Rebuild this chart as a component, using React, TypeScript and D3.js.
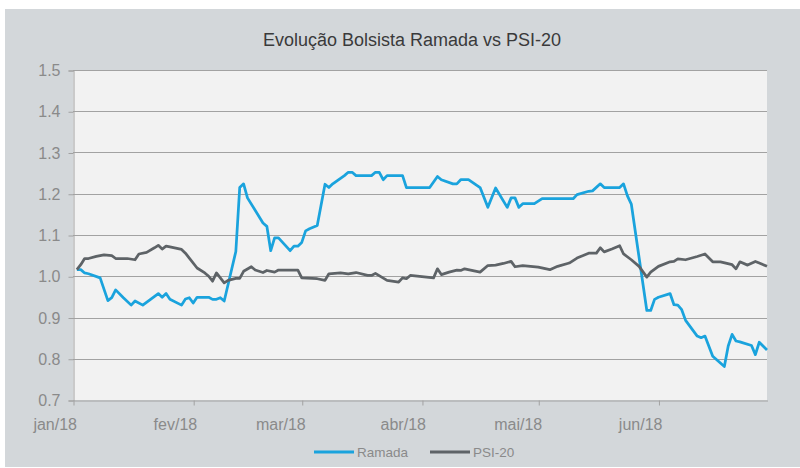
import { useEffect, useRef } from 'react';
import * as d3 from 'd3';

// Base 1 = 2 Jan 2018
const ramadaDates = [
  '2018-01-02', '2018-01-03', '2018-01-04', '2018-01-05', '2018-01-08', '2018-01-10', '2018-01-11',
  '2018-01-12', '2018-01-14', '2018-01-16', '2018-01-17', '2018-01-19', '2018-01-21', '2018-01-23',
  '2018-01-24', '2018-01-25', '2018-01-26', '2018-01-29', '2018-01-30', '2018-01-31', '2018-02-01',
  '2018-02-02', '2018-02-05', '2018-02-06', '2018-02-07', '2018-02-08', '2018-02-09', '2018-02-12',
  '2018-02-13', '2018-02-14', '2018-02-15', '2018-02-19', '2018-02-20', '2018-02-21', '2018-02-22',
  '2018-02-23', '2018-02-26', '2018-02-27', '2018-02-28', '2018-03-01', '2018-03-02', '2018-03-03',
  '2018-03-05', '2018-03-07', '2018-03-08', '2018-03-09', '2018-03-12', '2018-03-13', '2018-03-14',
  '2018-03-15', '2018-03-19', '2018-03-20', '2018-03-21', '2018-03-22', '2018-03-23', '2018-03-27',
  '2018-03-28', '2018-04-03', '2018-04-05', '2018-04-06', '2018-04-09', '2018-04-10', '2018-04-11',
  '2018-04-13', '2018-04-16', '2018-04-18', '2018-04-20', '2018-04-23', '2018-04-24', '2018-04-25',
  '2018-04-26', '2018-04-27', '2018-04-30', '2018-05-02', '2018-05-10', '2018-05-11', '2018-05-14',
  '2018-05-15', '2018-05-17', '2018-05-18', '2018-05-22', '2018-05-23', '2018-05-24', '2018-05-25',
  '2018-05-29', '2018-05-30', '2018-05-31', '2018-06-01', '2018-06-04', '2018-06-05', '2018-06-06',
  '2018-06-07', '2018-06-08', '2018-06-11', '2018-06-12', '2018-06-13', '2018-06-15', '2018-06-18',
  '2018-06-19', '2018-06-20', '2018-06-21', '2018-06-22', '2018-06-25', '2018-06-26', '2018-06-27',
  '2018-06-29',
];
const ramadaValues = [
  1.016, 1.016, 1.008, 1.006, 0.996, 0.941, 0.948,
  0.967, 0.948, 0.930, 0.940, 0.930, 0.944, 0.958,
  0.949, 0.958, 0.944, 0.930, 0.945, 0.948, 0.935,
  0.949, 0.949, 0.944, 0.944, 0.948, 0.940, 1.060,
  1.215, 1.224, 1.190, 1.129, 1.121, 1.062, 1.093,
  1.093, 1.062, 1.073, 1.073, 1.082, 1.110, 1.115,
  1.123, 1.223, 1.215, 1.224, 1.244, 1.252, 1.252,
  1.244, 1.244, 1.252, 1.252, 1.234, 1.244, 1.244,
  1.215, 1.215, 1.242, 1.234, 1.224, 1.224, 1.234,
  1.234, 1.215, 1.167, 1.214, 1.167, 1.190, 1.190,
  1.167, 1.176, 1.176, 1.188, 1.188, 1.198, 1.206,
  1.207, 1.224, 1.215, 1.215, 1.224, 1.195, 1.175,
  0.917, 0.917, 0.944, 0.949, 0.958, 0.931, 0.930,
  0.919, 0.893, 0.855, 0.851, 0.855, 0.806, 0.781,
  0.831, 0.859, 0.843, 0.841, 0.832, 0.810, 0.840,
  0.821,
];

const psiDates = [
  '2018-01-02', '2018-01-03', '2018-01-04', '2018-01-05', '2018-01-07', '2018-01-09', '2018-01-11',
  '2018-01-12', '2018-01-15', '2018-01-17', '2018-01-18', '2018-01-20', '2018-01-22', '2018-01-23',
  '2018-01-24', '2018-01-25', '2018-01-26', '2018-01-29', '2018-01-30', '2018-01-31', '2018-02-02',
  '2018-02-04', '2018-02-05', '2018-02-06', '2018-02-07', '2018-02-09', '2018-02-10', '2018-02-12',
  '2018-02-13', '2018-02-14', '2018-02-16', '2018-02-17', '2018-02-19', '2018-02-20', '2018-02-22',
  '2018-02-23', '2018-02-28', '2018-03-01', '2018-03-05', '2018-03-07', '2018-03-08', '2018-03-11',
  '2018-03-13', '2018-03-15', '2018-03-18', '2018-03-19', '2018-03-20', '2018-03-23', '2018-03-26',
  '2018-03-27', '2018-03-28', '2018-03-29', '2018-04-04', '2018-04-05', '2018-04-06', '2018-04-08',
  '2018-04-10', '2018-04-11', '2018-04-12', '2018-04-16', '2018-04-18', '2018-04-20', '2018-04-22',
  '2018-04-24', '2018-04-25', '2018-04-27', '2018-05-01', '2018-05-04', '2018-05-06', '2018-05-09',
  '2018-05-11', '2018-05-14', '2018-05-16', '2018-05-17', '2018-05-18', '2018-05-20', '2018-05-22',
  '2018-05-23', '2018-05-25', '2018-05-27', '2018-05-29', '2018-05-30', '2018-06-01', '2018-06-04',
  '2018-06-05', '2018-06-06', '2018-06-08', '2018-06-11', '2018-06-13', '2018-06-15', '2018-06-17',
  '2018-06-20', '2018-06-21', '2018-06-22', '2018-06-24', '2018-06-26', '2018-06-27', '2018-06-29',
];
const psiValues = [
  1.016, 1.028, 1.043, 1.043, 1.048, 1.052, 1.050,
  1.043, 1.043, 1.040, 1.054, 1.058, 1.069, 1.075,
  1.066, 1.073, 1.071, 1.065, 1.056, 1.044, 1.020,
  1.008, 1.000, 0.988, 1.008, 0.984, 0.990, 0.995,
  0.995, 1.012, 1.023, 1.015, 1.009, 1.014, 1.010,
  1.015, 1.015, 0.996, 0.994, 0.990, 1.006, 1.008,
  1.006, 1.009, 1.002, 1.002, 1.007, 0.990, 0.986,
  0.996, 0.994, 1.002, 0.996, 1.018, 1.004, 1.010,
  1.015, 1.014, 1.018, 1.010, 1.026, 1.027, 1.031,
  1.036, 1.023, 1.026, 1.022, 1.016, 1.024, 1.032,
  1.044, 1.056, 1.056, 1.069, 1.059, 1.066, 1.074,
  1.054, 1.040, 1.024, 0.998, 1.010, 1.024, 1.035,
  1.036, 1.042, 1.040, 1.048, 1.054, 1.035, 1.035,
  1.028, 1.018, 1.035, 1.027, 1.036, 1.032, 1.024,
];

const yTicks = [0.7, 0.8, 0.9, 1.0, 1.1, 1.2, 1.3, 1.4, 1.5];
const monthLabels = ['jan/18', 'fev/18', 'mar/18', 'abr/18', 'mai/18', 'jun/18'];
const seriesNames = ['Ramada', 'PSI-20'];

const FONT = '"Liberation Sans", Arial, sans-serif';
const BLUE = '#1aa3dd';
const DARK = '#5e6367';
const AXIS = '#a2a2a2';
const LABEL = '#8a8a8a';

const App = () => {
  const chartRef = useRef<SVGSVGElement>(null);

  useEffect(() => {
    if (!chartRef.current) return;
    const root = d3.select(chartRef.current);
    root.selectAll('*').remove();

    const width = 800;
    const height = 468;
    const left = 73;
    const right = 767;
    const top = 70;
    const bottom = 400;

    const parse = d3.timeParse('%Y-%m-%d');
    const ramada = ramadaDates.map((d, i) => ({ date: parse(d) as Date, value: ramadaValues[i] }));
    const psi = psiDates.map((d, i) => ({ date: parse(d) as Date, value: psiValues[i] }));

    const x = d3
      .scaleTime()
      .domain([new Date(2018, 0, 1), new Date(2018, 5, 29)])
      .range([left, right]);
    const y = d3.scaleLinear().domain([0.7, 1.5]).range([bottom, top]);

    root.attr('width', width).attr('height', height);

    // outer frame and plot area
    root.append('rect').attr('width', width).attr('height', height).attr('fill', '#ffffff');
    root
      .append('rect')
      .attr('x', 5)
      .attr('y', 9)
      .attr('width', width - 5)
      .attr('height', 458)
      .attr('fill', '#d3d7da');
    root
      .append('rect')
      .attr('x', left)
      .attr('y', top)
      .attr('width', right - left)
      .attr('height', bottom - top)
      .attr('fill', '#f2f2f2');

    // title
    root
      .append('text')
      .attr('x', 412)
      .attr('y', 46)
      .attr('text-anchor', 'middle')
      .attr('font-family', FONT)
      .attr('font-size', 18)
      .attr('fill', '#3a3a3a')
      .text('Evolução Bolsista Ramada vs PSI-20');

    // gridlines
    root
      .append('g')
      .selectAll('line')
      .data(yTicks.slice(1))
      .join('line')
      .attr('x1', left)
      .attr('x2', right)
      .attr('y1', (d) => Math.round(y(d)) + 0.5)
      .attr('y2', (d) => Math.round(y(d)) + 0.5)
      .attr('stroke', AXIS)
      .attr('stroke-width', 1);

    // y axis
    const yAxis = root
      .append('g')
      .attr('transform', `translate(${left + 0.5},0.5)`)
      .call(
        d3
          .axisLeft(y)
          .tickValues(yTicks)
          .tickSize(5)
          .tickPadding(8)
          .tickFormat((d) => d3.format('.1f')(d as number)),
      );
    yAxis.select('.domain').attr('stroke', AXIS);
    yAxis.selectAll('.tick line').attr('stroke', AXIS);
    yAxis
      .selectAll('.tick text')
      .attr('font-family', FONT)
      .attr('font-size', 16)
      .attr('fill', LABEL);

    // x axis
    const months = d3.timeMonth.range(new Date(2018, 0, 1), new Date(2018, 6, 1));
    const xAxis = root
      .append('g')
      .attr('transform', `translate(0.5,${bottom + 0.5})`)
      .call(
        d3
          .axisBottom(x)
          .tickValues(months)
          .tickSize(5)
          .tickSizeOuter(0)
          .tickFormat((_, i) => monthLabels[i]),
      );
    xAxis.select('.domain').attr('stroke', AXIS);
    xAxis.selectAll('.tick line').attr('stroke', AXIS);
    xAxis
      .selectAll('.tick text')
      .attr('font-family', FONT)
      .attr('font-size', 16)
      .attr('fill', LABEL)
      .attr('text-anchor', 'end')
      .attr('x', 3)
      .attr('y', 0)
      .attr('dy', 0)
      .attr('transform', 'translate(0,29)');

    // lines
    const line = d3
      .line<{ date: Date; value: number }>()
      .x((d) => x(d.date))
      .y((d) => y(d.value));

    root
      .append('path')
      .datum(ramada)
      .attr('fill', 'none')
      .attr('stroke', BLUE)
      .attr('stroke-width', 2.75)
      .attr('stroke-linejoin', 'round')
      .attr('d', line);

    root
      .append('path')
      .datum(psi)
      .attr('fill', 'none')
      .attr('stroke', DARK)
      .attr('stroke-width', 2.75)
      .attr('stroke-linejoin', 'round')
      .attr('d', line);

    // legend
    const legendX = [314, 430];
    const legend = root
      .append('g')
      .selectAll('g')
      .data(seriesNames)
      .join('g')
      .attr('transform', (_, i) => `translate(${legendX[i]},452)`);
    legend
      .append('line')
      .attr('x1', 0)
      .attr('x2', 40)
      .attr('stroke', (_, i) => (i === 0 ? BLUE : DARK))
      .attr('stroke-width', 3);
    legend
      .append('text')
      .attr('x', 43)
      .attr('y', 5)
      .attr('font-family', FONT)
      .attr('font-size', 13.5)
      .attr('fill', LABEL)
      .text((d) => d);
  }, []);

  return <svg ref={chartRef} style={{ position: 'absolute', left: 0, top: 0 }} />;
};

export default App;
